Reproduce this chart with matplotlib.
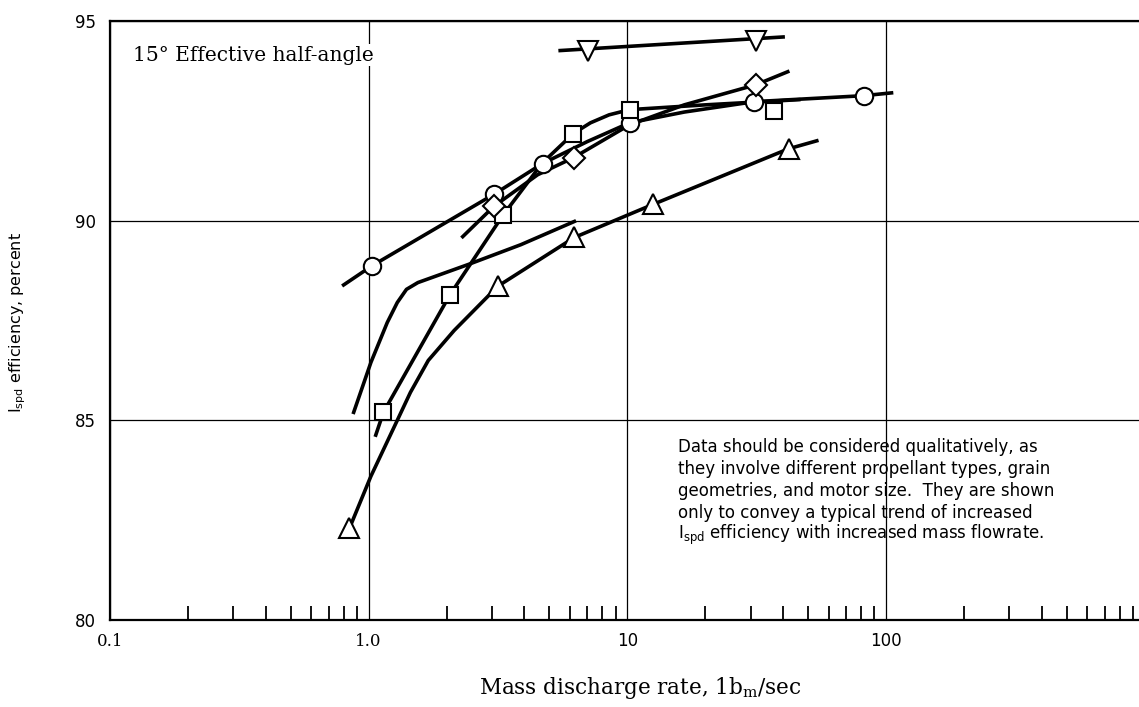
import numpy as np
import matplotlib
matplotlib.use('Agg')
import matplotlib.pyplot as plt
from matplotlib.ticker import LogLocator, FixedLocator, NullFormatter

# ---- data (mass rate lbm/sec, Ispd efficiency %) ----
# inverted triangles
vtri_x = [7.06, 31.3]
vtri_y = [94.25, 94.49]
vtri_line_x = [5.5, 40.0]
vtri_line_y = [94.26, 94.6]

# circles
circ_x = [1.03, 3.05, 4.7, 10.2, 31.0, 82.0]
circ_y = [88.87, 90.66, 91.43, 92.45, 92.98, 93.13]
circ_line_x = [0.80, 1.03, 3.05, 4.7, 7.0, 10.2, 16.6, 31.0, 82.0, 105.0]
circ_line_y = [88.39, 88.87, 90.66, 91.43, 91.98, 92.45, 92.72, 92.98, 93.13, 93.2]

# squares
sq_x = [1.14, 2.06, 3.3, 6.18, 10.2, 36.8]
sq_y = [85.2, 88.14, 90.13, 92.18, 92.78, 92.75]
sq_line_x = [1.065, 1.14, 2.06, 3.3, 4.7, 6.18, 7.2, 8.5, 10.2, 20.0, 46.0]
sq_line_y = [84.63, 85.2, 88.14, 90.13, 91.45, 92.18, 92.45, 92.65, 92.78, 92.9, 93.03]

# diamonds
dia_x = [3.05, 6.2, 31.3]
dia_y = [90.36, 91.58, 93.4]
dia_line_x = [2.31, 3.05, 4.5, 6.2, 10.2, 16.6, 31.3, 41.7]
dia_line_y = [89.6, 90.36, 91.15, 91.58, 92.4, 92.9, 93.4, 93.73]

# upright triangles
tri_x = [0.843, 3.16, 6.24, 12.6, 42.0]
tri_y = [82.3, 88.36, 89.58, 90.41, 91.8]
tri_line_x = [0.843, 1.02, 1.29, 1.45, 1.7, 2.14, 3.16, 6.24, 12.6, 42.0, 54.0]
tri_line_y = [82.3, 83.6, 85.0, 85.7, 86.5, 87.25, 88.36, 89.58, 90.41, 91.8, 92.0]

# curve without symbols
plain_x = [0.875, 1.02, 1.18, 1.29, 1.4, 1.55, 2.42, 3.88, 6.24]
plain_y = [85.2, 86.45, 87.45, 87.95, 88.28, 88.45, 88.9, 89.4, 89.98]

xtick_vals = [0.1, 1.0, 10, 100]
xtick_labels = ['0.1', '1.0', '10', '100']
ytick_vals = [80, 85, 90, 95]

note_lines = [
    'Data should be considered qualitatively, as',
    'they involve different propellant types, grain',
    'geometries, and motor size.  They are shown',
    'only to convey a typical trend of increased',
    r'I$_{\mathregular{spd}}$ efficiency with increased mass flowrate.',
]

fig = plt.figure(figsize=(11.39, 7.07), dpi=100)
ax = fig.add_axes([110/1139, 1 - 620/707, 1 - 110/1139 + 0.002, (620 - 21)/707])

lw = 2.6
mk = dict(mfc='white', mec='black', mew=1.5, linestyle='none', zorder=4)

ax.plot(vtri_line_x, vtri_line_y, color='black', lw=lw, zorder=3)
ax.plot(vtri_x, vtri_y, marker='v', ms=15, **mk)

ax.plot(circ_line_x, circ_line_y, color='black', lw=lw, zorder=3)
ax.plot(circ_x, circ_y, marker='o', ms=12.5, **mk)

ax.plot(sq_line_x, sq_line_y, color='black', lw=lw, zorder=3)
ax.plot(sq_x, sq_y, marker='s', ms=12, **mk)

ax.plot(dia_line_x, dia_line_y, color='black', lw=lw, zorder=3)
ax.plot(dia_x, dia_y, marker='D', ms=11.5, **mk)

ax.plot(tri_line_x, tri_line_y, color='black', lw=lw, zorder=3)
ax.plot(tri_x, tri_y, marker='^', ms=15, **mk)

ax.plot(plain_x, plain_y, color='black', lw=lw, zorder=3)

ax.set_xscale('log')
ax.set_xlim(0.1, 970)
ax.set_ylim(80, 95)

ax.xaxis.set_major_locator(FixedLocator(xtick_vals))
ax.set_xticks(xtick_vals)
ax.set_xticklabels(xtick_labels)
ax.xaxis.set_minor_locator(LogLocator(base=10, subs=np.arange(2, 10)))
ax.xaxis.set_minor_formatter(NullFormatter())
ax.set_yticks(ytick_vals)
ax.set_yticklabels([str(v) for v in ytick_vals])

ax.tick_params(axis='x', which='major', length=0, pad=9, labelsize=12)
ax.tick_params(axis='x', which='minor', direction='in', length=10, width=1.3, color='black')
ax.tick_params(axis='y', which='major', length=0, pad=10, labelsize=12)
for lab in ax.get_xticklabels()[:2]:
    lab.set_fontfamily('DejaVu Serif')

ax.grid(True, which='major', color='black', lw=0.9)
for s in ['left', 'top', 'bottom']:
    ax.spines[s].set_linewidth(1.6)
ax.spines['right'].set_visible(False)

ax.text(0.022, 0.943, u'15\u00b0 Effective half-angle', transform=ax.transAxes,
        fontfamily='DejaVu Serif', fontsize=14.5, ha='left', va='center',
        bbox=dict(facecolor='white', edgecolor='none', pad=1), zorder=5)

for i, line in enumerate(note_lines):
    ax.text((677 - 110)/1029, (620 - 447 - 22*i)/599, line, transform=ax.transAxes,
            fontsize=12, ha='left', va='center')

fig.text(18/1139, 1 - 323/707, r'I$_{\mathregular{spd}}$ efficiency, percent',
         rotation=90, ha='center', va='center', fontsize=11.5)
fig.text(640/1139, 1 - 688/707, r'Mass discharge rate, 1b$_{\mathregular{m}}$/sec',
         ha='center', va='center', fontsize=15.5, fontfamily='DejaVu Serif')

fig.savefig('out.png', dpi=100)
